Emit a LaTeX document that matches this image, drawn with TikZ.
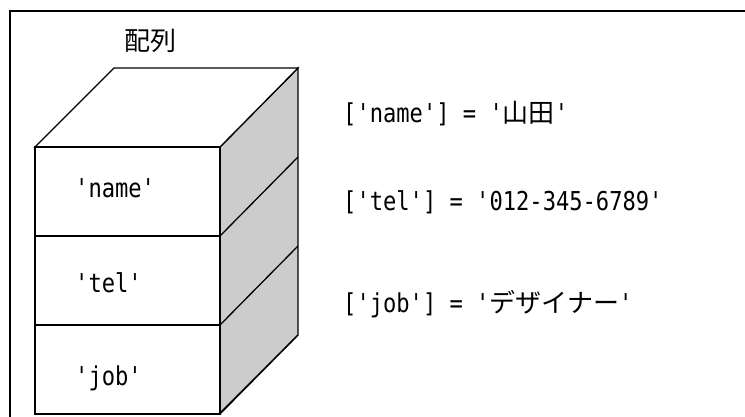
\documentclass[tikz,border=0pt]{standalone}
\usepackage{fontspec}
\newfontfamily\cjk{Noto Sans CJK JP}
\newfontfamily\mono[FakeStretch=0.85]{DejaVu Sans Mono}
\definecolor{sidegray}{gray}{0.8}
\begin{document}
\begin{tikzpicture}[x=1pt,y=-1pt,line join=miter]
    \useasboundingbox (0,0) rectangle (745,416);
    \begin{scope}
    \clip (0,0) rectangle (745,416);

    % outer frame, running off the page
    \draw[line width=2pt] (10,440) -- (10,11) -- (760,11);

    % side and top of the box
    \draw[line width=1.3pt,fill=sidegray] (220,147) -- (298,68) -- (298,335) -- (220,413) -- cycle;
    \draw[line width=1.3pt,fill=white] (35,147) -- (114,68) -- (298,68) -- (220,147) -- cycle;

    \foreach \i in {0,1,2}{% one slab per key
      \draw[line width=1.3pt] (35,147+89*\i) rectangle (220,236+89*\i);
      \draw[line width=1.3pt] (220,236+89*\i) -- (298,157+89*\i);
    }
    \end{scope}

    \node[anchor=base, inner sep=0pt] (title) at (150,50) {\fontsize{26}{30}\cjk 配列};

    \node[anchor=base west, inner sep=0pt] (keyname) at (75,197) {\fontsize{26}{30}\mono 'name'};
    \node[anchor=base west, inner sep=0pt] (keytel) at (75,292) {\fontsize{26}{30}\mono 'tel'};
    \node[anchor=base west, inner sep=0pt] (keyjob) at (75,385) {\fontsize{26}{30}\mono 'job'};

    \node[anchor=base west, inner sep=0pt] (valname) at (343,122)
      {\fontsize{26}{30}\mono ['name'] = '{\cjk 山田}'};
    \node[anchor=base west, inner sep=0pt] (valtel) at (343,210)
      {\fontsize{26}{30}\mono ['tel'] = '012-345-6789'};
    \node[anchor=base west, inner sep=0pt] (valjob) at (343,312)
      {\fontsize{26}{30}\mono ['job'] = '{\cjk デザイナー}'};
  \end{tikzpicture}
\end{document}
